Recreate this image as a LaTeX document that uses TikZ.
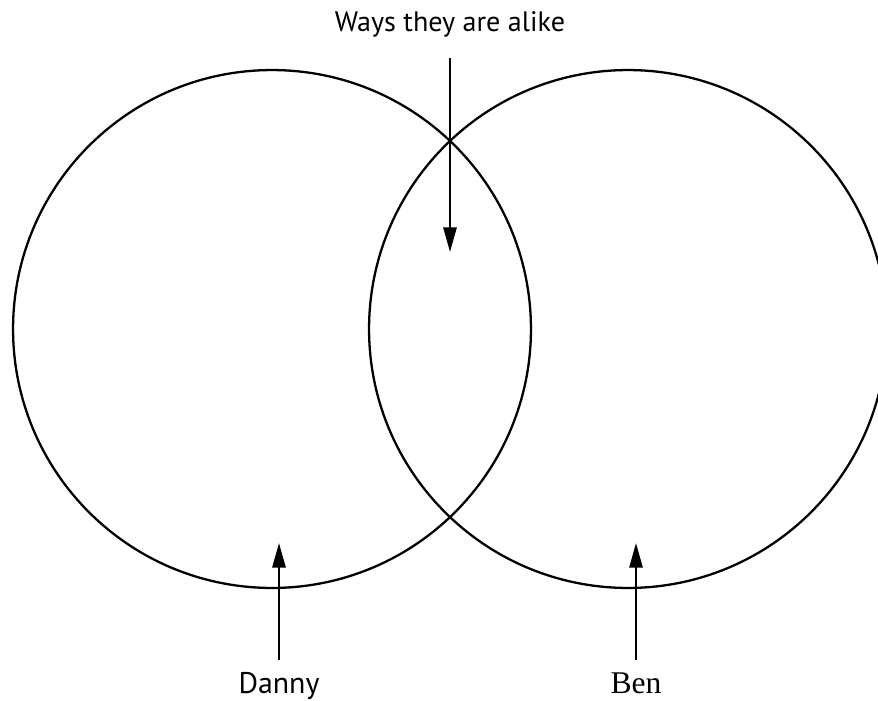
\documentclass[tikz,border=0pt]{standalone}
\usepackage{fontspec}
\setmainfont{Liberation Serif}
\setsansfont{PT Sans}
\usetikzlibrary{arrows.meta}
\begin{document}
\begin{tikzpicture}[x=0.02cm,y=-0.02cm,
  ring/.style={draw, line width=1.3pt, circle, minimum size=10.36cm, inner sep=0pt},
  pointer/.style={-{Triangle[length=14pt,width=7.5pt]}, line width=1.3pt}]
\useasboundingbox (0,0) rectangle (878,700);
% the two circles
\node[ring] (dannyring) at (272,329) {};
\node[ring] (benring) at (628,329) {};
% labels
\node[anchor=base, font=\sffamily\fontsize{16}{19}\selectfont] (alike) at (450,31) {Ways they are alike};
\node[anchor=base, font=\sffamily\fontsize{17}{20}\selectfont] (danny) at (279,693) {Danny};
\node[anchor=base, font=\fontsize{18}{21}\selectfont] (ben) at (636,693) {Ben};
% arrows
\coordinate (alikefrom) at (450,58);
\coordinate (aliketo) at (450,252);
\coordinate (dannyfrom) at (279,660);
\coordinate (dannyto) at (279,543);
\coordinate (benfrom) at (636,660);
\coordinate (bento) at (636,543);
\draw[pointer] (alikefrom) -- (aliketo);
\draw[pointer] (dannyfrom) -- (dannyto);
\draw[pointer] (benfrom) -- (bento);
\end{tikzpicture}
\end{document}
